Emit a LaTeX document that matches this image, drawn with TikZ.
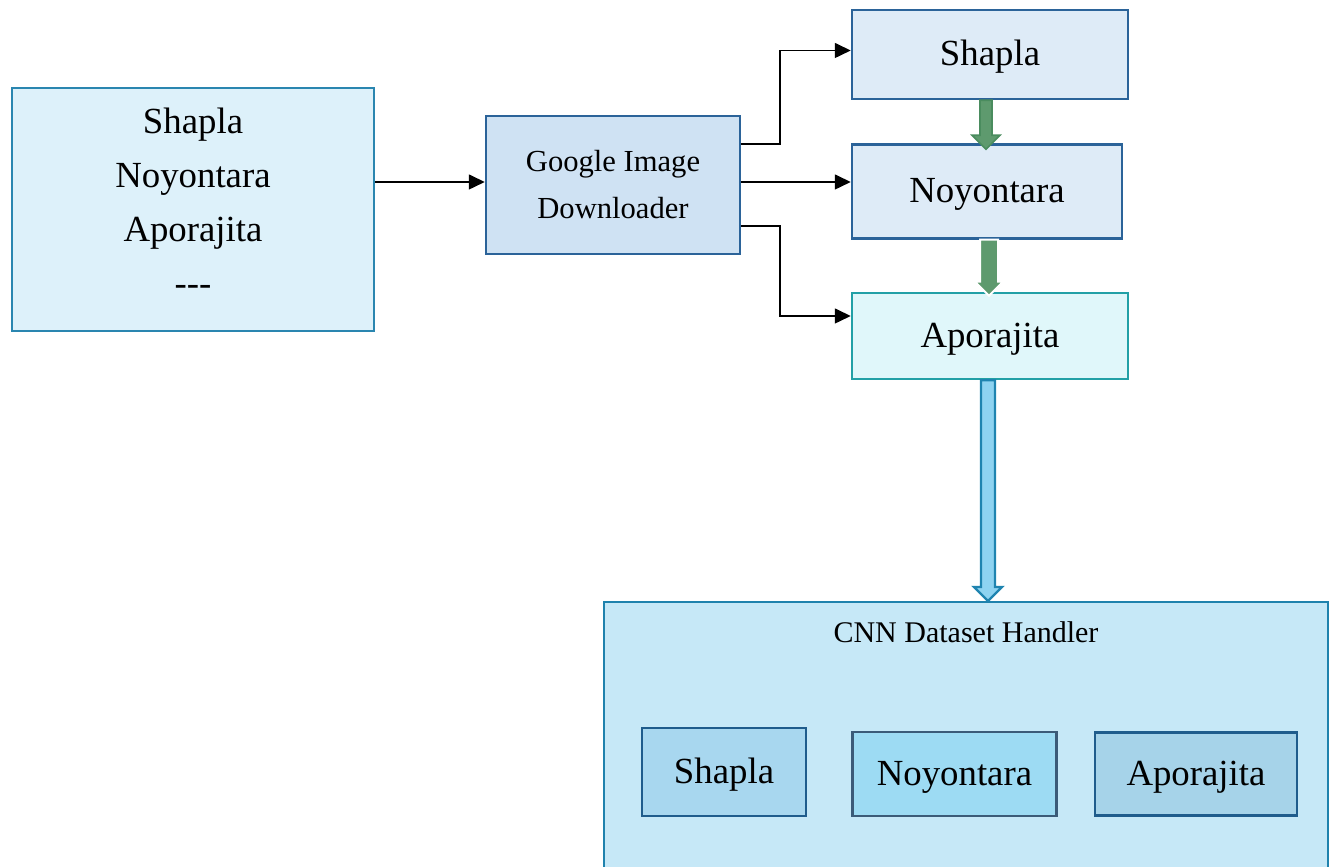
\documentclass[tikz,border=0pt]{standalone}
\usepackage{fontspec}
\setmainfont{Liberation Serif}
\usetikzlibrary{arrows.meta,positioning,calc}
\definecolor{srcfill}{HTML}{DDF1FA}
\definecolor{srcline}{HTML}{2A86B0}
\definecolor{gidfill}{HTML}{CFE2F3}
\definecolor{darkline}{HTML}{2B6399}
\definecolor{classfill}{HTML}{DEEBF7}
\definecolor{apofill}{HTML}{E0F7FA}
\definecolor{apoline}{HTML}{22A0A6}
\definecolor{cnnfill}{HTML}{C6E8F7}
\definecolor{cnnline}{HTML}{1F82AD}
\definecolor{infill}{HTML}{A8D7EF}
\definecolor{inline}{HTML}{1F5C8C}
\definecolor{midfill}{HTML}{9DDBF3}
\definecolor{midline}{HTML}{3B5B78}
\definecolor{greenfill}{HTML}{5E9A6E}
\definecolor{greenline}{HTML}{4A8C5E}
\definecolor{bluefill}{HTML}{8ED3F1}
\definecolor{blueline}{HTML}{1F84B0}
% block arrow pointing down, from #3 to #4, half shaft width #1
\newcommand{\blockarrow}[4][3pt]{%
  \draw[#2] let \p1=#3, \p2=#4 in
    (\x1-#1,\y1) -- (\x1-#1,\y2+7pt) -- (\x1-7pt,\y2+7pt) -- (\x1,\y2)
    -- (\x1+7pt,\y2+7pt) -- (\x1+#1,\y2+7pt) -- (\x1+#1,\y1) -- cycle;}

\begin{document}
\begin{tikzpicture}[
      x=0.5pt, y=0.5pt,
      big/.style={font=\fontsize{18.4}{27}\selectfont},
      box/.style={rectangle, line width=1.25pt, align=center, inner sep=0pt},
      srcbox/.style={box, draw=srcline, fill=srcfill,
                     minimum width=181pt, minimum height=121.5pt},
      gidbox/.style={box, draw=darkline, fill=gidfill,
                     minimum width=127pt, minimum height=69pt,
                     font=\fontsize{15.3}{23.5}\selectfont},
      classbox/.style={box, big, draw=darkline, fill=classfill,
                       text height=15pt, text depth=3.5pt},
      cnnbox/.style={box, draw=cnnline, fill=cnnfill,
                     minimum width=362pt, minimum height=139.5pt},
      innerbox/.style={box, big, draw=inline, fill=infill,
                       text height=15pt, text depth=3.5pt},
      arr/.style={-{Triangle[length=8pt,width=7.5pt]}, line width=0.8pt},
      greenarr/.style={fill=greenfill, draw=greenline, line width=0.8pt},
      greenarrw/.style={fill=greenfill, draw=white, line width=1pt},
      bluearr/.style={fill=bluefill, draw=blueline, line width=1.2pt},
    ]
    \useasboundingbox (0,0) rectangle (1335,867);

    % Name list
    \node[srcbox] (src) at (193,657.5) {};
    \node[big, align=center] (srclist) at ([yshift=4pt]src.center)
      {Shapla\\Noyontara\\Aporajita\\-{}-{}-};

    % Downloader
    \node[gidbox] (gid) at (613,682) {Google Image\\Downloader};

    % Class folders
    \node[classbox, minimum width=138pt, minimum height=44.5pt] (shp) at (990,812.5) {Shapla};
    \node[classbox, minimum width=135pt, minimum height=47pt,
          below right=21.5pt and 0pt of shp.south west] (noy) {Noyontara};
    \node[classbox, draw=apoline, fill=apofill, minimum width=138pt, minimum height=43pt,
          below right=26pt and 0pt of noy.south west] (apo) {Aporajita};

    % Dataset handler
    \node[cnnbox, anchor=north] (cnn) at (966,266) {};
    \node[font=\fontsize{15}{18}\selectfont] (cnntitle) at ([yshift=-15.5pt]cnn.north)
      {CNN Dataset Handler};
    \node[innerbox, minimum width=82pt, minimum height=44pt] (in1) at (724,95) {Shapla};
    \node[innerbox, draw=midline, fill=midfill, minimum width=102pt, minimum height=42pt,
          right=22pt of in1, yshift=-1pt] (in2) {Noyontara};
    \node[innerbox, fill=infill!95!gray, minimum width=101pt, minimum height=41.5pt,
          right=18pt of in2] (in3) {Aporajita};

    % Arrows
    \draw[arr] ([yshift=1.5pt]gid.west -| src.east) -- ([yshift=1.5pt]gid.west);
    \draw[arr] ([yshift=20.5pt]gid.east) -- ++(19.5pt,0) |- ([yshift=2pt]shp.west);
    \draw[arr] ([yshift=1.5pt]gid.east) -- ([yshift=1.5pt]gid.east -| noy.west);
    \draw[arr] ([yshift=-20.5pt]gid.east) -- ++(19.5pt,0) |- ([yshift=10pt]apo.west);

    % Block arrows
    \blockarrow{greenarr}{([xshift=-2pt]shp.south)}{([yshift=-3pt]noy.north)}
    \blockarrow[4.5pt]{greenarrw}{([xshift=1pt]noy.south)}{([yshift=-2pt]apo.north)}
    \blockarrow[3.5pt]{bluearr}{([xshift=-1pt]apo.south)}{(cnn.north)}
\end{tikzpicture}
\end{document}
